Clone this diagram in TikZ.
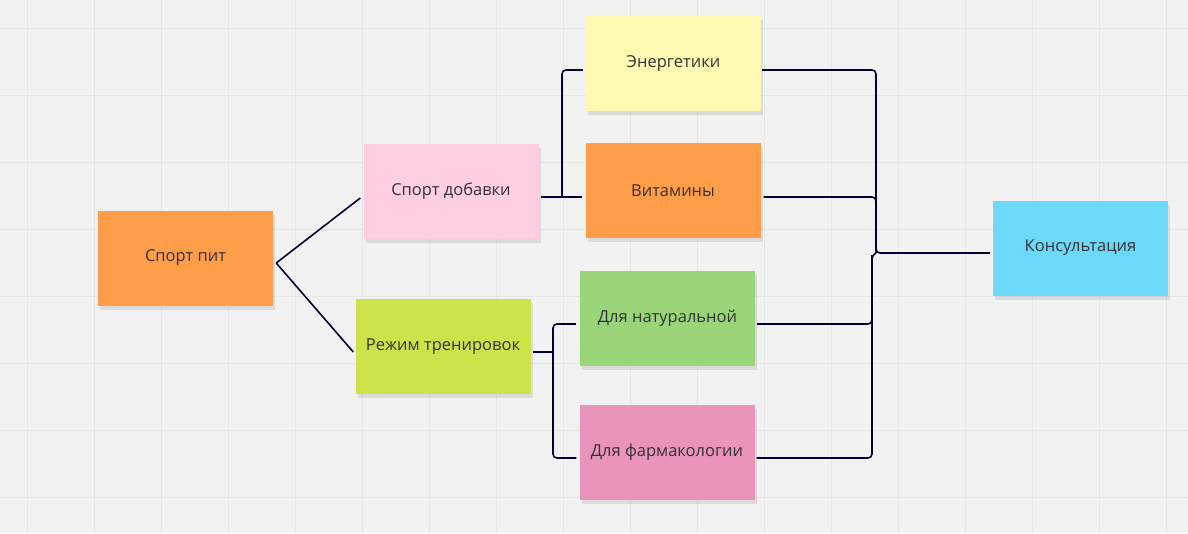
\documentclass[tikz,border=0pt]{standalone}
\usepackage{fontspec}
\setmainfont{Open Sans}
\usetikzlibrary{shadows}

\definecolor{bg}{HTML}{F2F2F2}
\definecolor{gridc}{HTML}{E6E6E6}
\definecolor{ink}{HTML}{050038}
\definecolor{txt}{HTML}{333333}
\definecolor{orangeN}{HTML}{FF9D48}
\definecolor{pinkL}{HTML}{FFCEE0}
\definecolor{limeN}{HTML}{CEE249}
\definecolor{yellowN}{HTML}{FFF9B1}
\definecolor{greenN}{HTML}{9AD57A}
\definecolor{pinkD}{HTML}{EA94BB}
\definecolor{cyanN}{HTML}{6CD8FA}

\begin{document}
\begin{tikzpicture}[x=1pt, y=-1pt,
    every node/.style = {minimum width = 175pt, minimum height = 95pt, inner sep = 0pt,
        text = txt, font = \fontsize{16.5}{20}\selectfont,
        drop shadow = {shadow xshift = 2pt, shadow yshift = -4pt, opacity = 0.2}},
    link/.style = {draw = ink, line width = 1.6pt, rounded corners = 4pt}]

\useasboundingbox[fill = bg] (0,0) rectangle (1188,533);
\foreach \x in {27,94,...,1166}
    \draw[gridc, line width = 1pt] (\x,0) -- (\x,533);
\foreach \y in {28,95,...,497}
    \draw[gridc, line width = 1pt] (0,\y) -- (1188,\y);

\node[fill = orangeN]  (A) at (185.5,258)   {Спорт пит};
\node[fill = pinkL]    (B) at (451,191)     {Спорт добавки};
\node[fill = limeN]    (C) at (443,346.5)   {Режим тренировок};
\node[fill = yellowN]  (D) at (673.5,63.5)  {Энергетики};
\node[fill = orangeN]  (E) at (673,190.5)   {Витамины};
\node[fill = greenN]   (F) at (667.5,318.5) {Для натуральной};
\node[fill = pinkD]    (G) at (667,452.5)   {Для фармакологии};
\node[fill = cyanN]    (H) at (1080.5,248)  {Консультация};

\coordinate (j1) at (562,197);
\coordinate (j2) at (553,352);
\coordinate (k1) at (876,253);
\coordinate (k2) at (872,255);

\begin{scope}[link]
    \draw ([shift={(3,5)}]A.east) -- ([shift={(-3,7)}]B.west);
    \draw ([shift={(3,5)}]A.east) -- ([shift={(-2,5.5)}]C.west);
    \draw ([shift={(2,6)}]B.east) -- ([shift={(-3,6.5)}]E.west);
    \draw ([shift={(-3,6.5)}]D.west) -| (j1);
    \draw ([shift={(2,5.5)}]C.east) -- (j2);
    \draw ([shift={(-4,5.5)}]F.west) -| (j2) |- ([shift={(-3,5.5)}]G.west);
    \draw ([shift={(1,6.5)}]D.east) -| (k1);
    \draw ([shift={(3,6.5)}]E.east) -| (k1) -- ([shift={(-3,5)}]H.west);
    \draw ([shift={(2,5.5)}]F.east) -| (k2);
    \draw ([shift={(2,5.5)}]G.east) -| (k2) -- (k1);
\end{scope}

\end{tikzpicture}
\end{document}
